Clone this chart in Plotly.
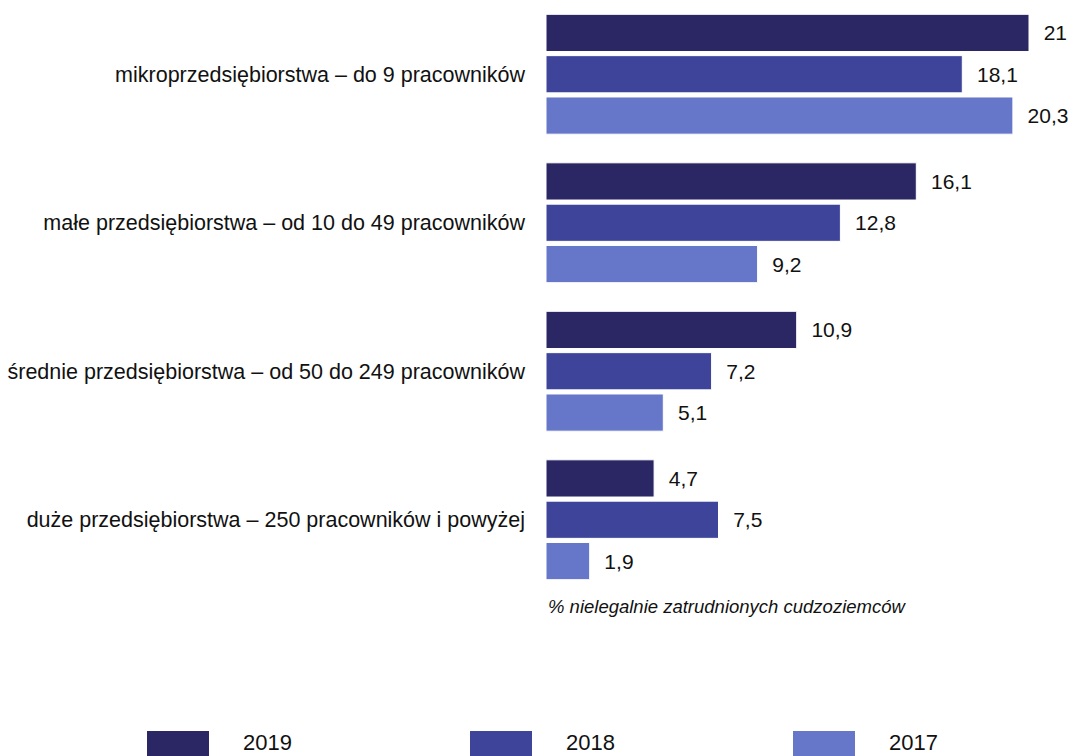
import plotly.graph_objects as go

categories = [
    "mikroprzedsiębiorstwa – do 9 pracowników",
    "małe przedsiębiorstwa – od 10 do 49 pracowników",
    "średnie przedsiębiorstwa – od 50 do 249 pracowników",
    "duże przedsiębiorstwa – 250 pracowników i powyżej",
]
years = ["2019", "2018", "2017"]
values_2019 = [21, 16.1, 10.9, 4.7]
values_2018 = [18.1, 12.8, 7.2, 7.5]
values_2017 = [20.3, 9.2, 5.1, 1.9]
axis_title = "% nielegalnie zatrudnionych cudzoziemców"

series = [values_2019, values_2018, values_2017]
colors = ["#2a2764", "#3d4499", "#6677c9"]

W, H = 1078, 756
L, R, T, B = 546, 0, 0, 162
PW, PH = W - L - R, H - T - B
FONT = "Liberation Sans, Arial, Helvetica, sans-serif"


def px_x(x):
    return (x - L) / PW


def px_y(y):
    return (T + PH - y) / PH


def fmt(v):
    return "\u00a0\u00a0" + f"{v:g}".replace(".", ",")


fig = go.Figure()
for name, vals, col in zip(years, series, colors):
    fig.add_trace(go.Bar(
        y=categories, x=vals, name=name, orientation="h",
        marker=dict(color=col, line=dict(color="white", width=1)),
        text=[fmt(v) for v in vals], textposition="outside",
        textfont=dict(size=21, color="#111111", family=FONT),
        cliponaxis=False, showlegend=False,
    ))

shapes = []
annotations = []
legend_x = [147, 470, 793]
for i, (name, col) in enumerate(zip(years, colors)):
    x0 = legend_x[i]
    shapes.append(dict(type="rect", xref="paper", yref="paper",
                       x0=px_x(x0), x1=px_x(x0 + 62), y0=px_y(731), y1=px_y(760),
                       fillcolor=col, line=dict(width=0)))
    annotations.append(dict(text=name, xref="paper", yref="paper",
                            x=px_x(x0 + 94), y=px_y(742), xanchor="left", yanchor="middle",
                            showarrow=False, font=dict(size=22, color="#111111", family=FONT)))

annotations.append(dict(text="<i>" + axis_title + "</i>", xref="paper", yref="paper",
                        x=0, y=px_y(606), xanchor="left", yanchor="middle", showarrow=False,
                        font=dict(size=18.5, color="#111111", family=FONT)))

fig.update_layout(
    width=W, height=H,
    margin=dict(l=L, r=R, t=T, b=B, pad=0),
    barmode="group", bargap=0.165, bargroupgap=0.1,
    plot_bgcolor="white", paper_bgcolor="white",
    font=dict(family=FONT, color="#111111"),
    shapes=shapes, annotations=annotations,
    xaxis=dict(range=[0, PW / 23.0], showticklabels=False, showgrid=False,
               zeroline=False, showline=False, ticks=""),
    yaxis=dict(autorange="reversed", showgrid=False, zeroline=False, showline=False,
               ticks="", ticklabelstandoff=20,
               tickfont=dict(size=21.5, color="#111111", family=FONT)),
)

fig.write_html("out.html",
               config={"displayModeBar": False},
               post_script="document.body.style.margin='0';document.body.style.overflow='hidden';")
